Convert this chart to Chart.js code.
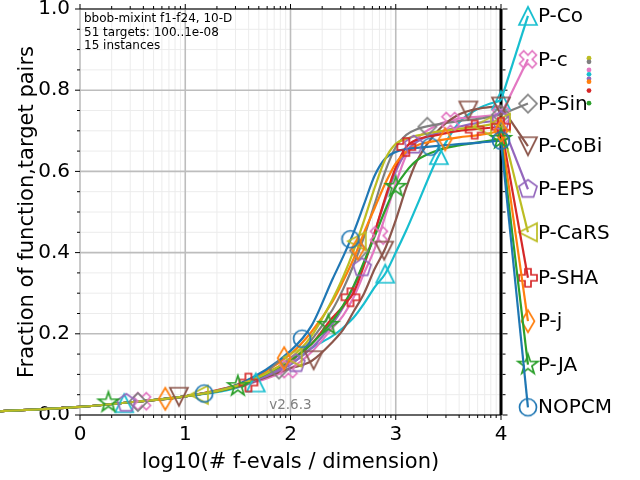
<!DOCTYPE html>
<html lang="en">
<head>
<meta charset="UTF-8">
<title>bbob-mixint f1-f24, 10-D</title>
<script src="https://cdn.jsdelivr.net/npm/chart.js"></script>
<style>
  html, body { margin: 0; padding: 0; background: #fff; }
  #wrap { width: 640px; height: 480px; }
</style>
</head>
<body>
<div id="wrap"><canvas id="grafico" width="640" height="480"></canvas></div>
<script>
// log10(# f-evals / dimension) grid shared by all curves
const logX = [-0.76, 0, 0.5, 1, 1.5, 2, 2.2, 2.4, 2.5, 2.6, 2.7, 2.8, 2.9, 3.0, 3.1, 3.2, 3.4, 3.6, 3.8, 4.0];

// fraction of (function,target) pairs, one list per algorithm
const yNOPCM  = [.009,.02,.032,.046,.075,.158,.22,.335,.39,.45,.52,.59,.632,.648,.655,.658,.663,.667,.671,.676];
const yPJA    = [.009,.02,.032,.046,.071,.135,.175,.232,.27,.318,.378,.44,.505,.562,.60,.627,.652,.664,.672,.68];
const yPj     = [.009,.02,.032,.046,.075,.15,.205,.28,.33,.385,.45,.51,.57,.62,.648,.664,.676,.684,.69,.70];
const yPSHA   = [.009,.02,.032,.046,.075,.135,.175,.24,.268,.302,.37,.45,.535,.61,.66,.678,.69,.70,.705,.71];
const yPCaRS  = [.009,.02,.032,.046,.073,.14,.195,.285,.34,.405,.48,.56,.63,.668,.68,.688,.698,.705,.711,.72];
const yPEPS   = [.009,.02,.032,.046,.071,.125,.165,.225,.265,.315,.375,.45,.53,.60,.648,.673,.695,.71,.72,.725];
const yPCoBi  = [.009,.02,.032,.046,.07,.115,.133,.18,.21,.255,.30,.36,.41,.48,.56,.625,.70,.74,.755,.76];
const yPSin   = [.009,.02,.032,.046,.072,.13,.185,.26,.31,.37,.44,.52,.60,.66,.69,.704,.716,.724,.73,.74];
const yPc     = [.009,.02,.032,.046,.07,.115,.155,.215,.245,.29,.35,.41,.49,.57,.64,.68,.715,.73,.735,.74];
const yPCo    = [.009,.02,.032,.046,.068,.125,.165,.195,.215,.24,.275,.315,.348,.40,.455,.515,.635,.72,.757,.775];

// marker positions on each curve [log10 x, fraction]
const mNOPCM = [[1.18,.053],[2.11,.188],[2.57,.433],[3.33,.661],[4.0,.676]];
const mPJA   = [[0.27,.031],[1.50,.071],[2.36,.222],[3.0,.562],[4.0,.68]];
const mPj    = [[0.81,.04],[1.94,.14],[2.64,.41],[3.47,.679],[4.0,.70]];
const mPSHA  = [[1.60,.08],[2.57,.29],[3.10,.66],[3.75,.703],[4.0,.71]];
const mPCaRS = [[1.13,.05],[2.02,.142],[2.63,.428],[3.82,.711],[4.0,.72]];
const mPEPS  = [[0.44,.029],[2.05,.127],[2.68,.363],[3.17,.665],[4.0,.725]];
const mPCoBi = [[0.94,.045],[2.22,.135],[2.89,.405],[3.69,.75],[4.0,.76]];
const mPSin  = [[0.55,.032],[1.89,.112],[2.65,.405],[3.30,.71],[4.0,.74]];
const mPc    = [[0.59,.034],[1.98,.113],[2.84,.442],[3.52,.724],[4.0,.74]];
const mPCo   = [[0.42,.029],[1.67,.08],[2.90,.348],[3.41,.64],[4.0,.775]];

const algNames  = ['NOPCM','P-JA','P-j','P-SHA','P-CaRS','P-EPS','P-CoBi','P-Sin','P-c','P-Co'];
const algCurves = [yNOPCM, yPJA, yPj, yPSHA, yPCaRS, yPEPS, yPCoBi, yPSin, yPc, yPCo];
const algMarks  = [mNOPCM, mPJA, mPj, mPSHA, mPCaRS, mPEPS, mPCoBi, mPSin, mPc, mPCo];
const legendY   = [0.019, 0.124, 0.231, 0.338, 0.45, 0.556, 0.662, 0.767, 0.876, 0.983];
const legendX   = 4.256;

// small dots right of the legend
const dotAlgs = ['P-CaRS','P-Sin','P-c','P-Co','P-EPS','P-j','P-SHA','P-JA'];
const dotY    = [0.879, 0.870, 0.850, 0.839, 0.828, 0.821, 0.799, 0.768];
const dotX    = 4.836;

const xTicks = [0, 1, 2, 3, 4];
const yTicks = [0, 0.2, 0.4, 0.6, 0.8, 1.0];

// styles
const colors = {
  'NOPCM':'#1f77b4','P-JA':'#2ca02c','P-j':'#ff7f0e','P-SHA':'#d62728','P-CaRS':'#bcbd22',
  'P-EPS':'#9467bd','P-CoBi':'#8c564b','P-Sin':'#7f7f7f','P-c':'#e377c2','P-Co':'#17becf'
};
const shapes = {
  'NOPCM':'o','P-JA':'*','P-j':'d','P-SHA':'P','P-CaRS':'<',
  'P-EPS':'p','P-CoBi':'v','P-Sin':'D','P-c':'X','P-Co':'^'
};
const FONT = "'DejaVu Sans', sans-serif";

function marker(shape, color) {
  const c = document.createElement('canvas');
  c.width = c.height = 28;
  const g = c.getContext('2d');
  g.translate(14, 14);
  g.strokeStyle = color;
  g.lineWidth = 1.7;
  g.lineJoin = 'miter';
  const h = 9;
  const poly = pts => {
    g.beginPath();
    pts.forEach(([x, y], i) => i ? g.lineTo(x, y) : g.moveTo(x, y));
    g.closePath();
  };
  const rot = (pts, a) => pts.map(([x, y]) => [x*Math.cos(a) - y*Math.sin(a), x*Math.sin(a) + y*Math.cos(a)]);
  const plus = a => {
    const w = h / 3;
    return rot([[-w,-h],[w,-h],[w,-w],[h,-w],[h,w],[w,w],[w,h],[-w,h],[-w,w],[-h,w],[-h,-w],[-w,-w]], a);
  };
  const regular = (n, ro, ri) => {
    const pts = [];
    const k = ri ? 2*n : n;
    for (let i = 0; i < k; i++) {
      const r = ri && i % 2 ? ri : ro;
      const a = -Math.PI/2 + i * 2*Math.PI / k;
      pts.push([r*Math.cos(a), r*Math.sin(a)]);
    }
    return pts;
  };
  switch (shape) {
    case 'o': g.beginPath(); g.arc(0, 0, 8.5, 0, 2*Math.PI); break;
    case '^': poly([[0,-h],[h,h],[-h,h]]); break;
    case 'v': poly([[0,h],[h,-h],[-h,-h]]); break;
    case '<': poly([[-h,0],[h,-h],[h,h]]); break;
    case 'D': poly([[0,-h],[h,0],[0,h],[-h,0]]); break;
    case 'd': poly([[0,-11],[6.5,0],[0,11],[-6.5,0]]); break;
    case 'p': poly(regular(5, 9.5)); break;
    case '*': poly(regular(5, 10.5, 4.1)); break;
    case 'P': poly(plus(0)); break;
    case 'X': poly(plus(Math.PI/4)); break;
  }
  g.stroke();
  return c;
}

const datasets = [];
algNames.forEach((name, i) => {
  const col = colors[name];
  const img = marker(shapes[name], col);
  const curve = algCurves[i];
  datasets.push({
    label: name,
    data: logX.map((x, j) => ({x: x, y: curve[j]})),
    borderColor: col, borderWidth: 2.2, pointRadius: 0,
    cubicInterpolationMode: 'monotone', clip: false,
    order: name === 'P-CaRS' ? 2 : 3
  });
  datasets.push({
    label: name + ' legend',
    data: [{x: 4, y: curve[curve.length - 1]}, {x: legendX, y: legendY[i]}],
    borderColor: col, borderWidth: 2.2, tension: 0,
    pointStyle: img, pointRadius: [0, 9], clip: false, order: 1
  });
  datasets.push({
    label: name + ' marks',
    data: algMarks[i].map(p => ({x: p[0], y: p[1]})),
    showLine: false, pointStyle: img, pointRadius: 9, clip: false, order: 0
  });
});
datasets.push({
  label: 'dots',
  data: dotY.map(y => ({x: dotX, y: y})),
  showLine: false, pointStyle: 'circle', pointRadius: 2.4, pointBorderWidth: 0,
  pointBackgroundColor: dotAlgs.map(a => colors[a]), clip: false, order: 0
});

const framePlugin = {
  id: 'frame',
  beforeDatasetsDraw(chart) {
    const ctx = chart.ctx, sx = chart.scales.x, sy = chart.scales.y;
    const X = v => sx.getPixelForValue(v), Y = v => sy.getPixelForValue(v);
    ctx.save();
    // minor grid
    ctx.strokeStyle = '#ececec'; ctx.lineWidth = 1;
    for (let d = 0; d < 4; d++) for (let k = 2; k <= 9; k++) {
      const x = X(d + Math.log10(k));
      ctx.beginPath(); ctx.moveTo(x, Y(0)); ctx.lineTo(x, Y(1)); ctx.stroke();
    }
    for (let k = 1; k < 20; k++) {
      if (k % 4 === 0) continue;
      const y = Y(k * 0.05);
      ctx.beginPath(); ctx.moveTo(X(0), y); ctx.lineTo(X(4), y); ctx.stroke();
    }
    // major grid
    ctx.strokeStyle = '#bdbdbd'; ctx.lineWidth = 1.6;
    xTicks.forEach(v => { ctx.beginPath(); ctx.moveTo(X(v), Y(0)); ctx.lineTo(X(v), Y(1)); ctx.stroke(); });
    yTicks.forEach(v => { ctx.beginPath(); ctx.moveTo(X(0), Y(v)); ctx.lineTo(X(4), Y(v)); ctx.stroke(); });
    // spines
    ctx.strokeStyle = '#000'; ctx.lineWidth = 1.2;
    ctx.beginPath(); ctx.moveTo(X(0), Y(0)); ctx.lineTo(X(4), Y(0)); ctx.stroke();
    ctx.beginPath(); ctx.moveTo(X(0), Y(1)); ctx.lineTo(X(4), Y(1)); ctx.stroke();
    ctx.lineWidth = 3;
    ctx.beginPath(); ctx.moveTo(X(4), Y(0)); ctx.lineTo(X(4), Y(1)); ctx.stroke();
    // ticks
    ctx.lineWidth = 1;
    const tickX = (v, len) => {
      ctx.beginPath(); ctx.moveTo(X(v), Y(0)); ctx.lineTo(X(v), Y(0) + len); ctx.stroke();
      ctx.beginPath(); ctx.moveTo(X(v), Y(1)); ctx.lineTo(X(v), Y(1) - len); ctx.stroke();
    };
    const tickY = (v, len) => {
      ctx.beginPath(); ctx.moveTo(X(0), Y(v)); ctx.lineTo(X(0) - len, Y(v)); ctx.stroke();
      ctx.beginPath(); ctx.moveTo(X(4) + 1.5, Y(v)); ctx.lineTo(X(4) + 1.5 + len, Y(v)); ctx.stroke();
    };
    xTicks.forEach(v => tickX(v, 5));
    for (let d = 0; d < 4; d++) for (let k = 2; k <= 9; k++) tickX(d + Math.log10(k), 3);
    yTicks.forEach(v => tickY(v, 5));
    for (let k = 1; k < 20; k++) if (k % 4) tickY(k * 0.05, 3);
    ctx.restore();
  },
  afterDatasetsDraw(chart) {
    const ctx = chart.ctx, sx = chart.scales.x, sy = chart.scales.y;
    ctx.save();
    ctx.fillStyle = '#000';
    // legend labels
    ctx.font = '20px ' + FONT;
    ctx.textAlign = 'left'; ctx.textBaseline = 'middle';
    algNames.forEach((name, i) => {
      ctx.fillText(name, sx.getPixelForValue(legendX) + 10, sy.getPixelForValue(legendY[i]) + 1);
    });
    // axis titles
    ctx.font = '21px ' + FONT;
    ctx.textAlign = 'center'; ctx.textBaseline = 'alphabetic';
    ctx.fillText('log10(# f-evals / dimension)', (sx.getPixelForValue(0) + sx.getPixelForValue(4)) / 2, 468);
    ctx.save();
    ctx.translate(33, (sy.getPixelForValue(0) + sy.getPixelForValue(1)) / 2);
    ctx.rotate(-Math.PI / 2);
    ctx.fillText('Fraction of function,target pairs', 0, 0);
    ctx.restore();
    // annotation
    ctx.font = '12px ' + FONT;
    ctx.textAlign = 'left';
    const ax = sx.getPixelForValue(0) + 4;
    ctx.fillText('bbob-mixint f1-f24, 10-D', ax, 22);
    ctx.fillText('51 targets: 100..1e-08', ax, 35.5);
    ctx.fillText('15 instances', ax, 49);
    ctx.font = '13.5px ' + FONT;
    ctx.fillStyle = '#808080';
    ctx.textAlign = 'right';
    ctx.fillText('v2.6.3', sx.getPixelForValue(2.2), 409);
    ctx.restore();
  }
};

const chart = new Chart(document.getElementById('grafico'), {
  type: 'line',
  data: { datasets: datasets },
  options: {
    responsive: false,
    animation: false,
    events: [],
    layout: { autoPadding: false, padding: { top: 9, right: 0, bottom: 0, left: 0 } },
    plugins: { legend: { display: false }, tooltip: { enabled: false } },
    scales: {
      x: {
        type: 'linear', min: 0, max: 560 / 105.25,
        afterBuildTicks: s => { s.ticks = xTicks.map(v => ({value: v})); },
        afterFit: s => { s.height = 65; s.paddingLeft = 0; s.paddingRight = 0; },
        grid: { display: false, drawTicks: true, tickLength: 5 },
        border: { display: false },
        ticks: { font: { family: FONT, size: 20 }, color: '#000', padding: 3, maxRotation: 0, autoSkip: false,
                 callback: v => String(v) }
      },
      y: {
        type: 'linear', min: 0, max: 1,
        afterBuildTicks: s => { s.ticks = yTicks.map(v => ({value: v})); },
        afterFit: s => { s.width = 80; s.paddingTop = 0; s.paddingBottom = 0; },
        grid: { display: false, drawTicks: true, tickLength: 5 },
        border: { display: false },
        ticks: { font: { family: FONT, size: 20 }, color: '#000', padding: 5,
                 callback: v => v.toFixed(1) }
      }
    }
  },
  plugins: [framePlugin]
});
</script>
</body>
</html>
